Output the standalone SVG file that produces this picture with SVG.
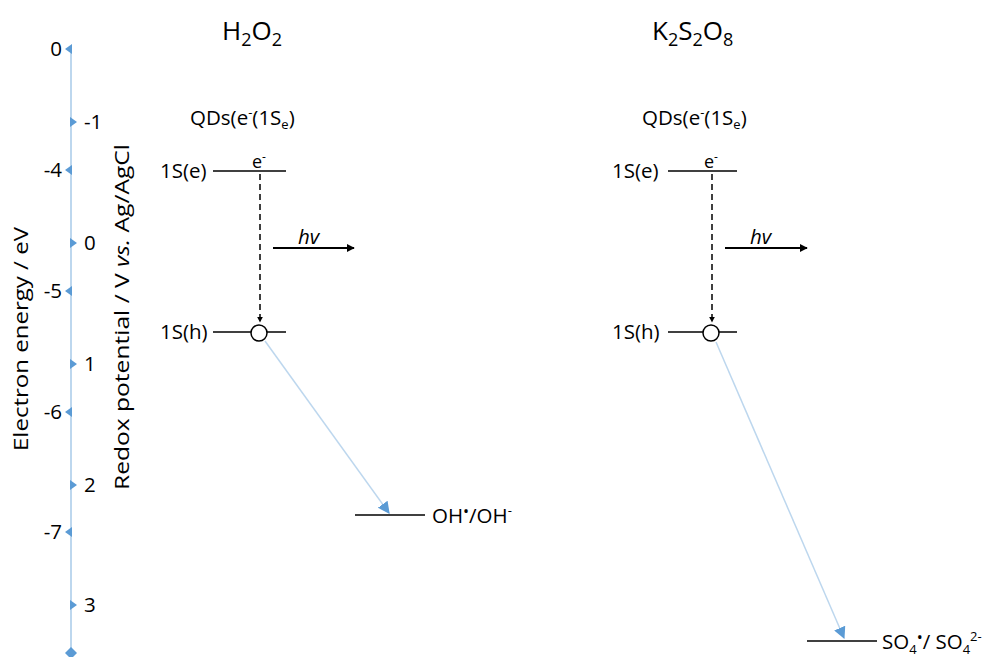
<svg xmlns="http://www.w3.org/2000/svg" width="988" height="657" viewBox="0 0 988 657">
<defs>
<style>
text{font-family:"Open Sans","Liberation Sans",sans-serif;fill:#000;}
.t{font-size:20.5px;}
.lvl{stroke:#000;stroke-width:1.5;fill:none;}
.axis{stroke:#bdd7ee;stroke-width:2;fill:none;}
.tk{fill:#5b9bd5;}
.trans{stroke:#bdd7ee;stroke-width:1.5;fill:none;}
.dash{stroke:#000;stroke-width:1.5;stroke-dasharray:6,4;fill:none;}
</style>
<marker id="blk" viewBox="0 0 10 10" refX="9" refY="5" markerWidth="4" markerHeight="4" orient="auto" markerUnits="strokeWidth">
<path d="M0,0 L10,5 L0,10 Z" fill="#000"/>
</marker>
<marker id="blu" viewBox="0 0 10 10" refX="9" refY="5" markerWidth="8" markerHeight="8" orient="auto" markerUnits="strokeWidth">
<path d="M0,0 L10,5 L0,10 Z" fill="#5b9bd5"/>
</marker>
</defs>
<rect width="988" height="657" fill="#fff"/>

<g id="axis">
<line class="axis" x1="71" y1="48" x2="71" y2="653"/>
<path class="tk" d="M65,49 L72,44 L72,54 Z"/>
<path class="tk" d="M65,170 L72,165 L72,175 Z"/>
<path class="tk" d="M65,291 L72,286 L72,296 Z"/>
<path class="tk" d="M65,412 L72,407 L72,417 Z"/>
<path class="tk" d="M65,532 L72,527 L72,537 Z"/>
<path class="tk" d="M77,122 L70,117 L70,127 Z"/>
<path class="tk" d="M77,243 L70,238 L70,248 Z"/>
<path class="tk" d="M77,364 L70,359 L70,369 Z"/>
<path class="tk" d="M77,485 L70,480 L70,490 Z"/>
<path class="tk" d="M77,605 L70,600 L70,610 Z"/>
<path class="tk" d="M71,647 L77,653 L71,659 L65,653 Z"/>
<g class="t" text-anchor="end">
<text x="62" y="56">0</text>
<text x="62" y="177">-4</text>
<text x="62" y="298">-5</text>
<text x="62" y="419">-6</text>
<text x="62" y="539">-7</text>
</g>
<g class="t">
<text x="84" y="129">-1</text>
<text x="84" y="250">0</text>
<text x="84" y="371">1</text>
<text x="84" y="492">2</text>
<text x="84" y="612">3</text>
</g>
<text class="t" transform="translate(28,451) rotate(-90)" textLength="224" lengthAdjust="spacingAndGlyphs">Electron energy / eV</text>
<text class="t" transform="translate(129,490) rotate(-90)" textLength="346" lengthAdjust="spacingAndGlyphs">Redox potential / V <tspan font-style="italic">vs.</tspan> Ag/AgCl</text>
</g>

<g id="title-h2o2">
<text x="222" y="40" font-size="26">H<tspan font-size="18" dy="6">2</tspan><tspan dy="-6">O</tspan><tspan font-size="18" dy="6">2</tspan></text>
</g>
<g id="title-k2s2o8">
<text x="652" y="40" font-size="26">K<tspan font-size="18" dy="6">2</tspan><tspan dy="-6">S</tspan><tspan font-size="18" dy="6">2</tspan><tspan dy="-6">O</tspan><tspan font-size="18" dy="6">8</tspan></text>
</g>

<g id="qd-left">
<text class="t" x="190" y="125">QDs(e<tspan font-size="13" dy="-8">-</tspan><tspan dy="8">(1S</tspan><tspan font-size="13" dy="4">e</tspan><tspan dy="-4">)</tspan></text>
<text class="t" x="160" y="178">1S(e)</text>
<line class="lvl" x1="213" y1="171" x2="286" y2="171"/>
<text x="252" y="168" font-size="18">e<tspan font-size="12" dy="-7">-</tspan></text>
<text class="t" x="160" y="339">1S(h)</text>
<line class="lvl" x1="213" y1="332" x2="286" y2="332"/>
<circle cx="259" cy="333" r="8" fill="#fff" stroke="#000" stroke-width="1.5"/>
<text class="t" x="298" y="244" font-style="italic">hv</text>
</g>

<g id="qd-right">
<text class="t" x="642" y="125">QDs(e<tspan font-size="13" dy="-8">-</tspan><tspan dy="8">(1S</tspan><tspan font-size="13" dy="4">e</tspan><tspan dy="-4">)</tspan></text>
<text class="t" x="612" y="178">1S(e)</text>
<line class="lvl" x1="668" y1="171" x2="737" y2="171"/>
<text x="704" y="168" font-size="18">e<tspan font-size="12" dy="-7">-</tspan></text>
<text class="t" x="612" y="339">1S(h)</text>
<line class="lvl" x1="668" y1="332" x2="737" y2="332"/>
<circle cx="711" cy="333" r="8" fill="#fff" stroke="#000" stroke-width="1.5"/>
<text class="t" x="750" y="244" font-style="italic">hv</text>
</g>

<g id="oh-level">
<line class="lvl" x1="355" y1="515" x2="425" y2="515"/>
<text class="t" x="432" y="523">OH<tspan font-size="16" dy="-6">•</tspan><tspan dy="6">/OH</tspan><tspan font-size="13" dy="-8">-</tspan></text>
</g>

<g id="so4-level">
<line class="lvl" x1="807" y1="641" x2="877" y2="641"/>
<text class="t" x="882" y="649">SO<tspan font-size="13" dy="5">4</tspan><tspan font-size="16" dy="-11">•</tspan><tspan dy="6">/ SO</tspan><tspan font-size="13" dy="5">4</tspan><tspan font-size="13" dy="-13">2-</tspan></text>
</g>

<g id="connectors">
<line class="dash" x1="260" y1="174" x2="260" y2="322" marker-end="url(#blk)"/>
<line class="dash" x1="712" y1="174" x2="712" y2="322" marker-end="url(#blk)"/>
<line x1="273" y1="248" x2="354" y2="248" stroke="#000" stroke-width="2" marker-end="url(#blk)"/>
<line x1="725" y1="248" x2="807" y2="248" stroke="#000" stroke-width="2" marker-end="url(#blk)"/>
<line class="trans" x1="265" y1="341" x2="389" y2="513" marker-end="url(#blu)"/>
<line class="trans" x1="716" y1="342" x2="844" y2="638" marker-end="url(#blu)"/>
</g>
</svg>
